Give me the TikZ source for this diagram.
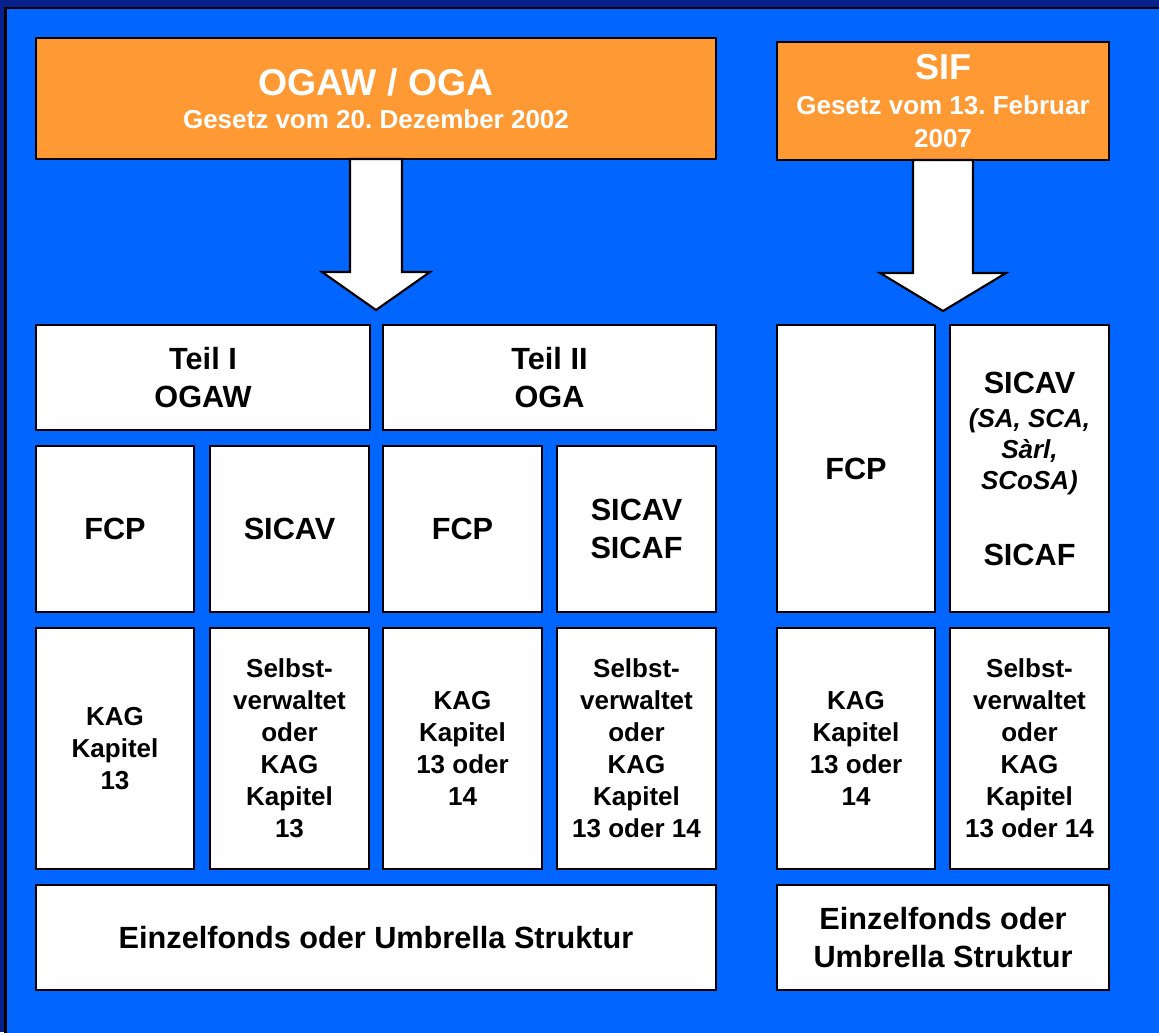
\documentclass[tikz,border=0pt]{standalone}
\usepackage{fontspec}
\setmainfont{Liberation Sans}
\usetikzlibrary{calc}
\frenchspacing
\definecolor{slideblue}{RGB}{0,102,255}
\definecolor{slidenavy}{RGB}{8,34,140}
\definecolor{laworange}{RGB}{255,153,51}
\begin{document}
\begin{tikzpicture}[x=0.75pt, y=-0.75pt,
  box/.style={draw, line width=1.6pt, fill=white, inner sep=0pt, outer sep=0pt, align=center,
    font=\bfseries\fontsize{23}{29}\selectfont},
  lawbox/.style={box, fill=laworange, text=white},
  small/.style={font=\bfseries\fontsize{19.5}{24}\selectfont},
  blockarrow/.style={draw, line width=1.6pt, fill=white, line join=miter}]
   % slide background
   \clip (0,0) rectangle (1159,1032);
   \fill[slidenavy] (0,0) rectangle (1159,1032);
   \filldraw[fill=slideblue, draw=black, line width=1.6pt] (5.5,8) rectangle (1170,1045);
   % law boxes
   \node[lawbox, minimum width=510pt, minimum height=90.75pt] (ogaw) at (376,98.5)
      {\fontsize{28}{32}\selectfont OGAW / OGA\\[-4pt]
       \fontsize{19.5}{24}\selectfont Gesetz vom 20. Dezember 2002};
   \node[lawbox, minimum width=249pt, minimum height=88.5pt] (sif) at (943,101)
      {\fontsize{27}{30}\selectfont SIF\\[-3pt]
       \fontsize{19.5}{24}\selectfont Gesetz vom 13. Februar\\[-4pt]
       \fontsize{19.5}{24}\selectfont 2007};
   % parts
   \node[box, minimum width=250.5pt, minimum height=78.75pt] (teil1) at (203,377.5) {Teil I\\OGAW};
   \node[box, minimum width=249.75pt, minimum height=78.75pt] (teil2) at (549.5,377.5) {Teil II\\OGA};
   % fund types
   \node[box, minimum width=118.5pt, minimum height=124.5pt] (fcp1) at (115,529) {FCP};
   \node[box, minimum width=119.25pt, minimum height=124.5pt] (sicav1) at (289.5,529) {SICAV};
   \node[box, minimum width=119.25pt, minimum height=124.5pt] (fcp2) at (462.5,529) {FCP};
   \node[box, minimum width=119.25pt, minimum height=124.5pt] (sicav2) at (636.5,529) {SICAV\\SICAF};
   \node[box, minimum width=118.5pt, minimum height=215.25pt] (fcp3) at (856,468.5) {FCP};
   \node[box, minimum width=119.25pt, minimum height=215.25pt] (sicav3) at (1029.5,468.5)
      {SICAV\\[-3pt]
       {\itshape\fontsize{19.5}{23}\selectfont (SA, SCA,}\\[-6pt]
       {\itshape\fontsize{19.5}{23}\selectfont Sàrl,}\\[-6pt]
       {\itshape\fontsize{19.5}{23}\selectfont SCoSA)}\\[28pt]
       SICAF};
   % management
   \node[box, small, minimum width=118.5pt, minimum height=180.75pt] (kag1) at (115,748.5) {KAG\\Kapitel\\13};
   \node[box, small, minimum width=119.25pt, minimum height=180.75pt] (self1) at (289.5,748.5)
      {Selbst-\\verwaltet\\oder\\KAG\\Kapitel\\13};
   \node[box, small, minimum width=119.25pt, minimum height=180.75pt] (kag2) at (462.5,748.5) {KAG\\Kapitel\\13 oder\\14};
   \node[box, small, minimum width=119.25pt, minimum height=180.75pt] (self2) at (636.5,748.5)
      {Selbst-\\verwaltet\\oder\\KAG\\Kapitel\\13 oder 14};
   \node[box, small, minimum width=118.5pt, minimum height=180.75pt] (kag3) at (856,748.5) {KAG\\Kapitel\\13 oder\\14};
   \node[box, small, minimum width=119.25pt, minimum height=180.75pt] (self3) at (1029.5,748.5)
      {Selbst-\\verwaltet\\oder\\KAG\\Kapitel\\13 oder 14};
   % structure
   \node[box, minimum width=510pt, minimum height=78.75pt] (einzel1) at (376,937.5) {Einzelfonds oder Umbrella Struktur};
   \node[box, minimum width=249pt, minimum height=78.75pt] (einzel2) at (943,937.5) {Einzelfonds oder\\Umbrella Struktur};
   % arrows
   \draw[blockarrow] ($(ogaw.south)+(-26,0)$) -- ++(0,113) -- ++(-28,0) -- ($(ogaw.south)+(0,151)$)
      -- ($(ogaw.south)+(54,113)$) -- ++(-28,0) -- ($(ogaw.south)+(26,0)$) -- cycle;
   \draw[blockarrow] ($(sif.south)+(-30,0)$) -- ++(0,113) -- ++(-33,0) -- ($(sif.south)+(0,151)$)
      -- ($(sif.south)+(63,113)$) -- ++(-33,0) -- ($(sif.south)+(30,0)$) -- cycle;
\end{tikzpicture}
\end{document}
